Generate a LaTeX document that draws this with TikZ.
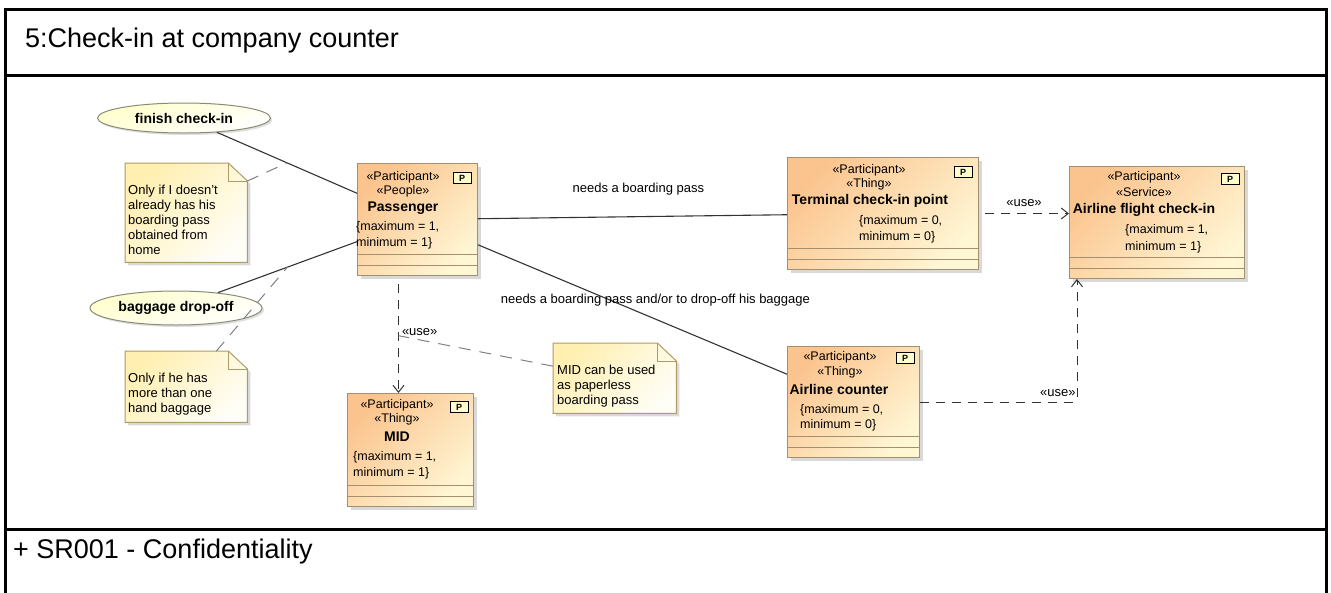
\documentclass[tikz,border=0pt]{standalone}
\usepackage{fontspec}
\setmainfont{Liberation Sans}
\usetikzlibrary{arrows.meta,shadows,shapes.geometric,calc}

\definecolor{partorange}{HTML}{FBC48E}
\definecolor{partyellow}{HTML}{FFF6D4}
\definecolor{partborder}{HTML}{A4906E}
\definecolor{noteyellow}{HTML}{FFEFB0}
\definecolor{notelight}{HTML}{FFFEF6}
\definecolor{noteborder}{HTML}{B09A68}
\definecolor{ovalfill}{HTML}{FFFFCC}
\definecolor{ovalborder}{HTML}{8A8A78}
\definecolor{linegray}{HTML}{333333}

\tikzset{
  frame/.style={line width=3pt, black},
  partbox/.style={draw=partborder, line width=1pt, top color=partorange,
    bottom color=partyellow, shading angle=45, anchor=north west,
    inner sep=0pt, drop shadow={shadow xshift=3pt, shadow yshift=-3pt, opacity=0.3}},
  partline/.style={draw=partborder, line width=1pt},
  pbox/.style={draw=black, fill=ovalfill, line width=0.8pt, minimum width=18pt,
    minimum height=11pt, inner sep=0pt, font=\fontsize{9}{9}\selectfont\bfseries},
  stereo/.style={font=\fontsize{12.5}{14}\selectfont, inner sep=0pt},
  partname/.style={font=\fontsize{14}{16}\selectfont\bfseries, inner sep=0pt},
  bound/.style={font=\fontsize{12.5}{14}\selectfont, inner sep=0pt, anchor=west},
  oval/.style={ellipse, draw=ovalborder, line width=1pt, top color=ovalfill,
    bottom color=white, shading angle=20, inner sep=0pt,
    font=\fontsize{14}{16}\selectfont\bfseries,
    drop shadow={shadow xshift=2pt, shadow yshift=-2pt, opacity=0.25}},
  note/.style={anchor=north west, inner sep=0pt},
  notebody/.style={draw=noteborder, line width=1pt, top color=noteyellow,
    bottom color=notelight, shading angle=45,
    drop shadow={shadow xshift=3pt, shadow yshift=-3pt, opacity=0.3}},
  notetext/.style={font=\fontsize{13}{15}\selectfont, align=left, inner sep=0pt, anchor=north west},
  assoc/.style={draw=linegray, line width=1.1pt},
  usedep/.style={draw=linegray, line width=1pt, dash pattern=on 9pt off 7pt,
    -{Straight Barb[length=7pt, width=11pt]}},
  noteanchor/.style={draw=gray, line width=1pt, dash pattern=on 12pt off 9pt},
  linktext/.style={font=\fontsize{13}{15}\selectfont, inner sep=1pt}
}

\begin{document}
\begin{tikzpicture}[x=1pt, y=-1pt]
\useasboundingbox (0,0) rectangle (1331,592);

% frame and bands
\draw[frame] (5.5,9.5) rectangle (1326.5,620);
\draw[frame] (5.5,75) -- (1326.5,75);
\draw[frame] (5.5,529.5) -- (1326.5,529.5);
\node[anchor=base west, inner sep=0pt, font=\fontsize{27}{30}\selectfont] (title) at (25,47) {5:Check-in at company counter};
\node[anchor=base west, inner sep=0pt, font=\fontsize{27}{30}\selectfont] (rule) at (13,558) {+ SR001 - Confidentiality};

% use cases
\node[oval, minimum width=173pt, minimum height=30pt] (finish) at (184,118) {finish check-in};
\node[oval, minimum width=172pt, minimum height=34pt] (bagdrop) at (176,308) {baggage drop-off};

% participants
\node[partbox, minimum width=120pt, minimum height=112pt] (pass) at (357,163) {};
\node[partbox, minimum width=191pt, minimum height=112pt] (term) at (787,157) {};
\node[partbox, minimum width=175pt, minimum height=112pt] (flight) at (1069,166) {};
\node[partbox, minimum width=132pt, minimum height=111pt] (counter) at (787,346) {};
\node[partbox, minimum width=126pt, minimum height=113pt] (mid) at (347,393) {};

\foreach \b in {pass,term,flight,counter,mid} {
  \draw[partline] ([yshift=22pt]\b.south west) -- ([yshift=22pt]\b.south east);
  \draw[partline] ([yshift=11pt]\b.south west) -- ([yshift=11pt]\b.south east);
}

\node[pbox] (passP) at (462,178) {P};
\node[pbox] (termP) at (963,172) {P};
\node[pbox] (flightP) at (1230,179) {P};
\node[pbox] (counterP) at (905,358) {P};
\node[pbox] (midP) at (459,407) {P};

\node[stereo] (passS1) at (403,177) {«Participant»};
\node[stereo] (passS2) at (403,191) {«People»};
\node[partname] (passN) at (403,208) {Passenger};
\node[bound] (passB1) at (356,227) {\{maximum = 1,};
\node[bound] (passB2) at (356,243) {minimum = 1\}};

\node[stereo] (termS1) at (869,170) {«Participant»};
\node[stereo] (termS2) at (869,184) {«Thing»};
\node[partname] (termN) at (870,201) {Terminal check-in point};
\node[bound] (termB1) at (859,221) {\{maximum = 0,};
\node[bound] (termB2) at (859,237) {minimum = 0\}};

\node[stereo] (flightS1) at (1144,177) {«Participant»};
\node[stereo] (flightS2) at (1144,192) {«Service»};
\node[partname] (flightN) at (1144,210) {Airline flight check-in};
\node[bound] (flightB1) at (1125,230) {\{maximum = 1,};
\node[bound] (flightB2) at (1125,247) {minimum = 1\}};

\node[stereo] (counterS1) at (840,357) {«Participant»};
\node[stereo] (counterS2) at (840,372) {«Thing»};
\node[partname] (counterN) at (839,389) {Airline counter};
\node[bound] (counterB1) at (800,410) {\{maximum = 0,};
\node[bound] (counterB2) at (800,425) {minimum = 0\}};

\node[stereo] (midS1) at (397,405) {«Participant»};
\node[stereo] (midS2) at (397,419) {«Thing»};
\node[partname] (midN) at (397,437) {MID};
\node[bound] (midB1) at (353,457) {\{maximum = 1,};
\node[bound] (midB2) at (353,473) {minimum = 1\}};

% notes
\node[note, minimum width=122pt, minimum height=99pt] (note1) at (125,163) {};
\node[note, minimum width=122pt, minimum height=71pt] (note2) at (125,351) {};
\node[note, minimum width=123pt, minimum height=70pt] (note3) at (553,343) {};

\foreach \n in {note1,note2,note3} {
  \shade[notebody] (\n.north west) -- ([xshift=-19pt]\n.north east) -- ([yshift=-18pt]\n.north east)
    -- (\n.south east) -- (\n.south west) -- cycle;
  \draw[draw=noteborder, line width=1pt] ([xshift=-19pt]\n.north east) -- ([xshift=-19pt,yshift=-18pt]\n.north east)
    -- ([yshift=-18pt]\n.north east);
}

\node[notetext] (note1t) at ([xshift=3pt,yshift=-22pt]note1.north west) {Only if I doesn't\\already has his\\boarding pass\\obtained from\\home};
\node[notetext] (note2t) at ([xshift=3pt,yshift=-22pt]note2.north west) {Only if he has\\more than one\\hand baggage};
\node[notetext] (note3t) at ([xshift=4pt,yshift=-22pt]note3.north west) {MID can be used\\as paperless\\boarding pass};

% associations
\draw[assoc] (finish) -- coordinate[pos=0.5] (finmid) (pass);
\draw[assoc] (bagdrop) -- coordinate[pos=0.5] (bagmid) (pass);
\draw[assoc] (pass) -- node[linktext, pos=0.519, yshift=28pt] {needs a boarding pass} (term);
\draw[assoc] (pass) -- node[linktext, pos=0.574, yshift=19pt] {needs a boarding pass and/or to drop-off his baggage} (counter);

% dependencies
\coordinate (usetop) at ([xshift=-19pt]pass.south);
\coordinate (flightin) at ([xshift=8pt]flight.south west);
\draw[usedep, shorten <=6pt] (term.east) -- node[linktext, midway, yshift=10pt] {«use»} (term.east -| flight.west);
\draw[usedep, shorten <=8pt] (usetop) -- node[linktext, pos=0.48, anchor=west, xshift=2pt] {«use»}
  coordinate[pos=0.51] (usemid) (usetop |- mid.north);
\draw[usedep, rounded corners=4pt] (counter.east) -- (flightin |- counter.east)
  node[linktext, anchor=south east, yshift=4pt] {«use»} -- (flightin);

% note anchors
\draw[noteanchor] ([yshift=-18pt]note1.north east) -- (finmid);
\draw[noteanchor] ([xshift=-31pt]note2.north east) -- (bagmid);
\draw[noteanchor] ([yshift=12pt]note3.west) -- (usemid);
\end{tikzpicture}
\end{document}
